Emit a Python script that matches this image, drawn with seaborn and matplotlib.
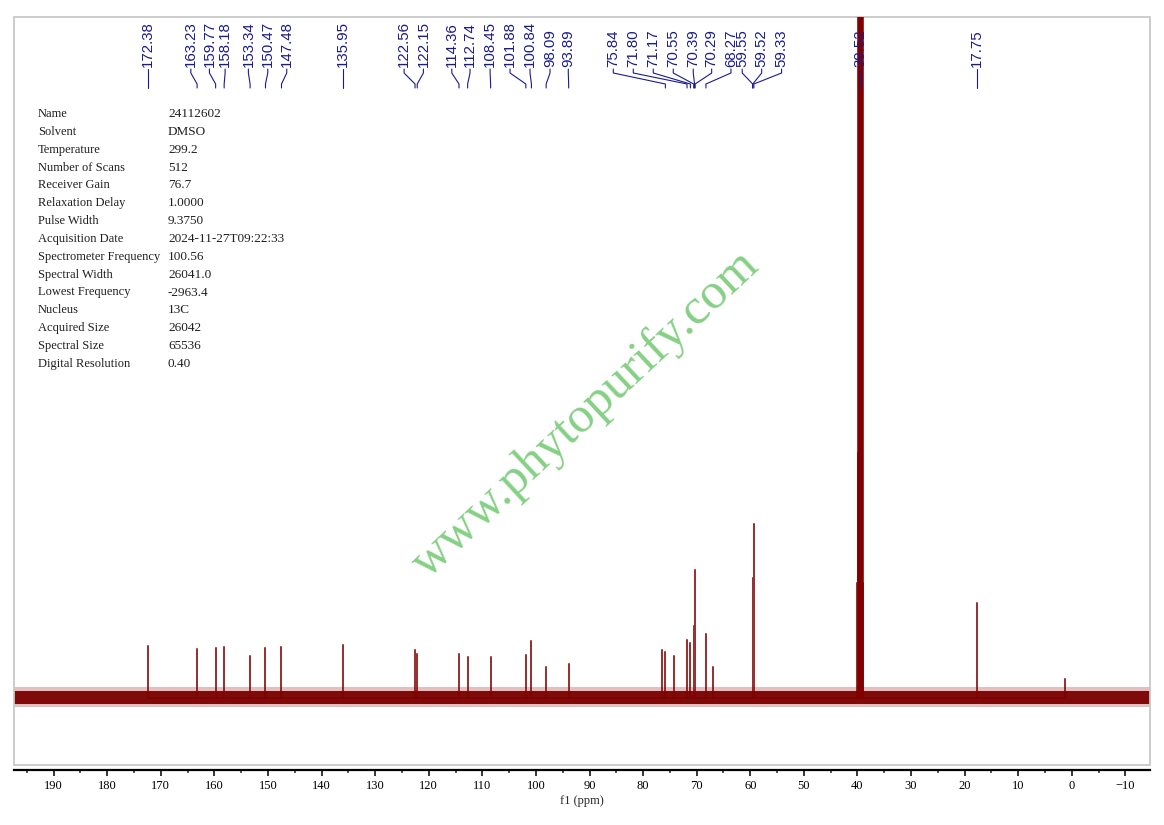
import numpy as np
import pandas as pd
import seaborn as sns
import matplotlib.pyplot as plt
from matplotlib.patches import Rectangle
from matplotlib.ticker import MultipleLocator
from matplotlib.transforms import blended_transform_factory

# picos marcados (ppm), altura aproximada e posicao do rotulo
peak_ppm = [172.38, 163.23, 159.77, 158.18, 153.34, 150.47, 147.48, 135.95,
            122.56, 122.15, 114.36, 112.74, 108.45, 101.88, 100.84, 98.09, 93.89,
            75.84, 71.80, 71.17, 70.55, 70.39, 70.29, 68.27, 59.55, 59.52, 59.33,
            39.52, 17.75]
peak_height = [52, 48.5, 50, 51, 42, 49.5, 51, 53,
               48, 44, 43.5, 41, 40.5, 42.5, 57, 30.5, 34,
               45.5, 57.5, 54.5, 72, 128, 120, 63.5, 119.5, 100, 174,
               2000, 94.5]
label_pos = [172.38, 164.4, 160.93, 158.0, 153.66, 150.04, 146.5, 135.95,
             124.6, 121.0, 115.7, 112.3, 108.55, 104.83, 101.1, 97.37, 93.96,
             85.56, 81.83, 78.1, 74.37, 70.64, 67.2, 63.6, 61.5, 57.87, 54.15,
             39.52, 17.75]

# picos sem rotulo
extra_ppm = [76.5, 74.2, 67.0, 1.3]
extra_height = [47.5, 41.5, 30.5, 18.5]

# multipleto do DMSO (sem o central, que ja esta na lista)
dmso_ppm = [40.14, 39.93, 39.72, 39.31, 39.10, 38.89]
dmso_height = [115, 245, 2000, 2000, 250, 115]

info_names = ["Name", "Solvent", "Temperature", "Number of Scans", "Receiver Gain",
              "Relaxation Delay", "Pulse Width", "Acquisition Date",
              "Spectrometer Frequency", "Spectral Width", "Lowest Frequency",
              "Nucleus", "Acquired Size", "Spectral Size", "Digital Resolution"]
info_values = ["24112602", "DMSO", "299.2", "512", "76.7", "1.0000", "9.3750",
               "2024-11-27T09:22:33", "100.56", "26041.0", "-2963.4", "13C",
               "26042", "65536", "0.40"]

x_ticks = list(range(190, -11, -10))

sns.set_theme(style="white")
plt.rcParams['font.family'] = ['Liberation Serif', 'DejaVu Serif']

W, H = 1164, 825
fig = plt.figure(figsize=(W / 100, H / 100), dpi=100)
ax = fig.add_axes([14 / W, 1 - 765 / H, 1136 / W, 748 / H])

red = '#800000'
blue = '#1a1a90'

# espectro em barras
all_ppm = peak_ppm + extra_ppm + dmso_ppm
all_h = peak_height + extra_height + dmso_height
order = np.argsort(all_ppm)[::-1]
xs, ys = [], []
for i in order:
    xs += [all_ppm[i]] * 3
    ys += [0, all_h[i], 0]
spec = pd.DataFrame({"ppm": xs, "intensity": ys})
sns.lineplot(data=spec, x="ppm", y="intensity", sort=False, estimator=None,
             color=red, linewidth=1.1, alpha=0.8, ax=ax)
ax.vlines([39.72, 39.52, 39.31], 0, 2000, color=red, linewidth=3.3)

# linha de base
xlim = (197.4, -14.6)
ax.fill_between(xlim, -10, 10, color=red, alpha=0.25, linewidth=0)
ax.fill_between(xlim, -6.5, 6.5, color='#7a0000', alpha=0.95, linewidth=0)

ax.set_xlim(*xlim)
ax.set_ylim(-67.5, 680.5)
ax.set_yticks([])
ax.set_ylabel("")
ax.set_xticks(x_ticks)
ax.xaxis.set_minor_locator(MultipleLocator(5))
ax.tick_params(axis='x', which='major', direction='out', length=4.3, width=1.1,
               pad=3, labelsize=9, colors='black', bottom=True)
ax.tick_params(axis='x', which='minor', direction='out', length=2.2, width=1.1,
               bottom=True)
for s in ['top', 'left', 'right']:
    ax.spines[s].set_visible(False)
ax.spines['bottom'].set_position(('outward', 3.6))
ax.spines['bottom'].set_color('black')
ax.spines['bottom'].set_linewidth(1.6)
ax.add_patch(Rectangle((0, 0), 1, 1, transform=ax.transAxes, fill=False,
                       edgecolor='#c8c8c8', linewidth=1.3, clip_on=False))
ax.set_xlabel("f1 (ppm)", fontsize=9, labelpad=2)

# rotulos dos picos
trans = blended_transform_factory(ax.transData, fig.transFigure)
def fy(py):
    return 1 - py / H

for p, lp in zip(peak_ppm, label_pos):
    ax.text(lp, fy(67), f"{p:.2f}", rotation=90, ha='center', va='bottom',
            fontsize=10.8, family=['Liberation Sans', 'DejaVu Sans'], color=blue,
            transform=trans, zorder=10)
    ax.plot([lp, lp, p, p], [fy(69), fy(73), fy(84), fy(88)], color=blue,
            linewidth=0.8, transform=trans, clip_on=False, zorder=10)

# parametros de aquisicao
for i, (n, v) in enumerate(zip(info_names, info_values)):
    y = fy(114 + i * 17.85)
    fig.text(38 / W, y, n, fontsize=9, va='center', ha='left', color='#202020')
    fig.text(168 / W, y, v, fontsize=9.5, va='center', ha='left', color='#202020')

# marca d'agua
fig.text(594 / W, fy(423), "www.phytopurify.com", rotation=43, ha='center',
         va='baseline', rotation_mode='anchor', fontsize=36.5,
         family=['Liberation Serif'], color='#86d086')

plt.savefig("out.png", dpi=100)
